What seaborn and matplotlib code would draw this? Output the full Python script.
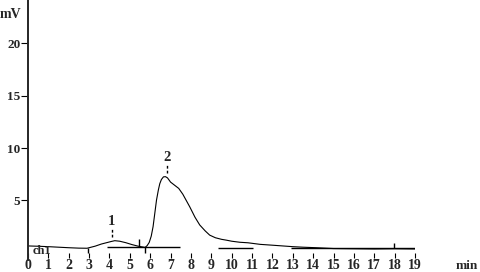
import numpy as np
import matplotlib
matplotlib.use("Agg")
import matplotlib.pyplot as plt
import pandas as pd
import seaborn as sns

# chromatogram trace (min, mV)
time_min = [0, 0.5, 1, 1.5, 2, 2.5, 2.9, 3.0, 3.3, 3.6, 3.9, 4.1, 4.26, 4.5, 4.8,
            5.1, 5.4, 5.6, 5.75, 5.85, 5.95, 6.05, 6.14, 6.22, 6.31, 6.4, 6.47,
            6.55, 6.65, 6.75, 6.85, 7.0, 7.2, 7.4, 7.6, 7.94, 8.2, 8.43, 8.7,
            8.92, 9.2, 9.5, 9.74, 10.0, 10.4, 10.8, 11.4, 12.0, 12.5, 13.0,
            13.5, 14.15, 15, 16, 17, 18, 19]
signal_mv = [0.67, 0.64, 0.6, 0.55, 0.5, 0.46, 0.45, 0.5, 0.65, 0.85, 1.0, 1.1,
             1.17, 1.12, 0.98, 0.8, 0.65, 0.58, 0.53, 0.7, 1.0, 1.6, 2.5, 3.7,
             5.05, 6.0, 6.6, 7.0, 7.25, 7.27, 7.15, 6.75, 6.45, 6.15, 5.6, 4.4,
             3.4, 2.67, 2.1, 1.7, 1.45, 1.3, 1.22, 1.12, 1.02, 0.97, 0.82, 0.74,
             0.67, 0.6, 0.55, 0.5, 0.42, 0.4, 0.38, 0.4, 0.38]

# integration baselines
base_start = [3.86, 9.33, 12.93]
base_end = [7.45, 11.04, 19.0]
base_level = [0.54, 0.45, 0.5]

# peak boundary marks
mark_x = [2.96, 5.46, 5.75, 17.95]
mark_lo = [0.0, 0.54, 0.0, 0.45]
mark_hi = [0.47, 1.3, 0.53, 0.95]

# peak labels
peak_rt = [4.1, 6.83]
peak_mv = [1.17, 7.27]
peak_names = ["1", "2"]

x_ticks = list(range(0, 20))
y_ticks = [5, 10, 15, 20]

sns.set_style("ticks")
plt.rcParams["font.family"] = ["Liberation Serif", "DejaVu Serif"]
plt.rcParams["font.weight"] = "bold"

fig = plt.figure(figsize=(4.8, 2.72), dpi=100)
ax = fig.add_axes([28 / 480, 12 / 272, 387 / 480, 260 / 272])

df = pd.DataFrame({"min": time_min, "mV": signal_mv})
sns.lineplot(data=df, x="min", y="mV", ax=ax, color="black", lw=0.8,
             estimator=None, sort=False)

ax.hlines(base_level, base_start, base_end, color="black", lw=1.0)
ax.vlines(mark_x, mark_lo, mark_hi, color="black", lw=1.0)

for rt, h, name in zip(peak_rt, peak_mv, peak_names):
    ax.vlines(rt, h + 0.35, h + 1.1, color="black", lw=1.0,
              linestyles=(0, (2, 1.5)))
    ax.text(rt, h + 1.2, name, ha="center", va="bottom", fontsize=10.5,
            fontweight="bold")

ax.set_xlim(0, 19)
ax.set_ylim(-0.67, 24.1)
ax.set_xticks(x_ticks)
ax.set_xticklabels([str(v) for v in x_ticks], fontsize=11.5, fontweight="bold")
ax.set_yticks(y_ticks)
ax.set_yticklabels([str(v) for v in y_ticks], fontsize=9.5, fontweight="bold")
ax.set_xlabel("")
ax.set_ylabel("")

for side in ["top", "right"]:
    ax.spines[side].set_visible(False)
ax.spines["bottom"].set_position(("data", 0))
ax.spines["bottom"].set_color("none")
ax.spines["left"].set_linewidth(1.4)
ax.tick_params(axis="x", length=3.5, width=0.8, pad=1.0, color="black")
ax.tick_params(axis="y", length=5, width=0.8, pad=0.5, color="black")

fig.text(0.0, 1 - 14 / 272, "mV", ha="left", va="center", fontsize=10,
         fontweight="bold")
fig.text(456 / 480, 1 - 266 / 272, "min", ha="left", va="center", fontsize=9.5,
         fontweight="bold")
fig.text(33 / 480, 1 - 251 / 272, "ch1", ha="left", va="center", fontsize=9,
         fontweight="bold")

fig.savefig("out.png", dpi=100, facecolor="white")
